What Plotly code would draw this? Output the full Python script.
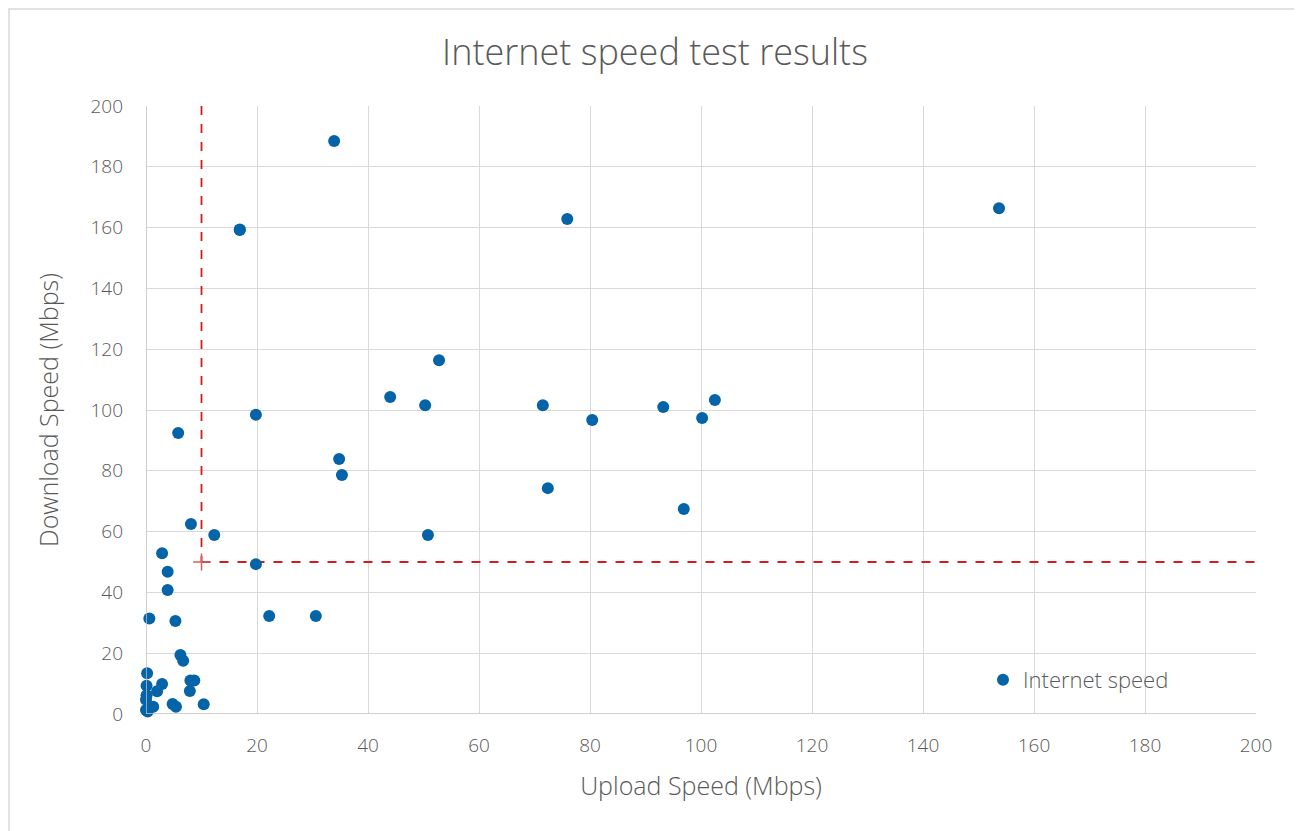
import plotly.graph_objects as go

# Data (Mbps)
upload = [33.9, 16.9, 16.9, 75.9, 153.7, 52.8, 44.0, 50.3, 71.5, 80.4, 93.2, 100.2, 102.5,
          19.8, 5.8, 34.8, 35.3, 72.4, 96.9, 50.8, 12.3, 8.1, 19.8, 22.2, 30.6,
          2.9, 3.9, 3.9, 0.6, 5.3, 6.2, 6.7, 0.2, 8.0, 8.7, 2.9, 0.1, 7.9, 2.0, 0.1,
          0.0, 4.8, 5.4, 10.4, 1.3, 0.0, 0.3]
download = [188.5, 159.2, 159.4, 162.8, 166.4, 116.4, 104.3, 101.6, 101.6, 96.7, 101.0, 97.4, 103.3,
            98.4, 92.4, 83.9, 78.6, 74.3, 67.4, 58.9, 58.9, 62.5, 49.3, 32.2, 32.2,
            52.9, 46.8, 40.8, 31.4, 30.6, 19.4, 17.5, 13.4, 11.0, 11.0, 9.9, 9.3, 7.6, 7.5, 6.2,
            4.7, 3.3, 2.4, 3.2, 2.4, 1.3, 0.8]

threshold_upload = 10
threshold_download = 50
axis_min = 0
axis_max = 200
tick_vals = [0, 20, 40, 60, 80, 100, 120, 140, 160, 180, 200]

font_family = "'Open Sans', Lato, sans-serif"
text_color = "#595959"
grid_color = "#d9d9d9"
point_color = "#0563a8"
red = "#d01c1c"

W, H = 1294, 823
L, R, T, B = 138, 46, 98, 117
PW, PH = W - L - R, H - T - B

fig = go.Figure()

# threshold lines
fig.add_trace(go.Scatter(
    x=[threshold_upload, threshold_upload], y=[axis_max, threshold_download],
    mode="lines", line=dict(color=red, width=1.8, dash="dash"),
    showlegend=False, hoverinfo="skip"))
fig.add_trace(go.Scatter(
    x=[threshold_upload, axis_max], y=[threshold_download, threshold_download],
    mode="lines", line=dict(color=red, width=1.8, dash="dash"),
    showlegend=False, hoverinfo="skip"))
fig.add_trace(go.Scatter(
    x=[threshold_upload], y=[threshold_download],
    mode="markers", marker=dict(symbol="cross-thin", size=12,
                                line=dict(color="#d06060", width=1.5)),
    showlegend=False, hoverinfo="skip"))

fig.add_trace(go.Scatter(
    x=upload, y=download, mode="markers", name="Internet speed", cliponaxis=False,
    marker=dict(color=point_color, size=12, line=dict(width=0))))

axis_common = dict(
    range=[axis_min, axis_max], tickvals=tick_vals, showgrid=True, gridcolor=grid_color,
    gridwidth=1, zeroline=False, showline=False,
    tickfont=dict(family=font_family, size=19, color=text_color, weight=300),
    title_font=dict(family=font_family, size=25, color=text_color, weight=300),
    fixedrange=True,
)

fig.update_layout(
    width=W, height=H,
    paper_bgcolor="white", plot_bgcolor="white",
    margin=dict(l=L, r=R, t=T, b=B),
    title=dict(text="Internet speed test results", x=0.5, xanchor="center",
               y=1 - 44 / H, yanchor="middle",
               font=dict(family=font_family, size=36, color=text_color, weight=300)),
    xaxis=dict(axis_common, title=dict(text="Upload Speed (Mbps)", standoff=20), ticklabelstandoff=18),
    yaxis=dict(axis_common, title=dict(text="Download Speed (Mbps)", standoff=24), ticklabelstandoff=22),
    legend=dict(x=(983 - 146) / PW, y=(714 - 680) / PH, xanchor="left", yanchor="middle",
                bgcolor="rgba(0,0,0,0)",
                font=dict(family=font_family, size=22, color=text_color, weight=300)),
    shapes=[
        dict(type="rect", xref="paper", yref="paper",
             x0=-(L - 1) / PW, x1=1 + (R + 10) / PW, y0=-(B + 10) / PH, y1=1 + (T - 1) / PH,
             line=dict(color="#d9d9d9", width=1.5), layer="below"),
        dict(type="line", xref="x", yref="paper", x0=0, x1=0, y0=0, y1=1,
             line=dict(color="#bfbfbf", width=1.5)),
        dict(type="line", xref="paper", yref="y", x0=0, x1=1, y0=0, y1=0,
             line=dict(color="#bfbfbf", width=1.5)),
    ],
)

fig.write_html("out.html")
